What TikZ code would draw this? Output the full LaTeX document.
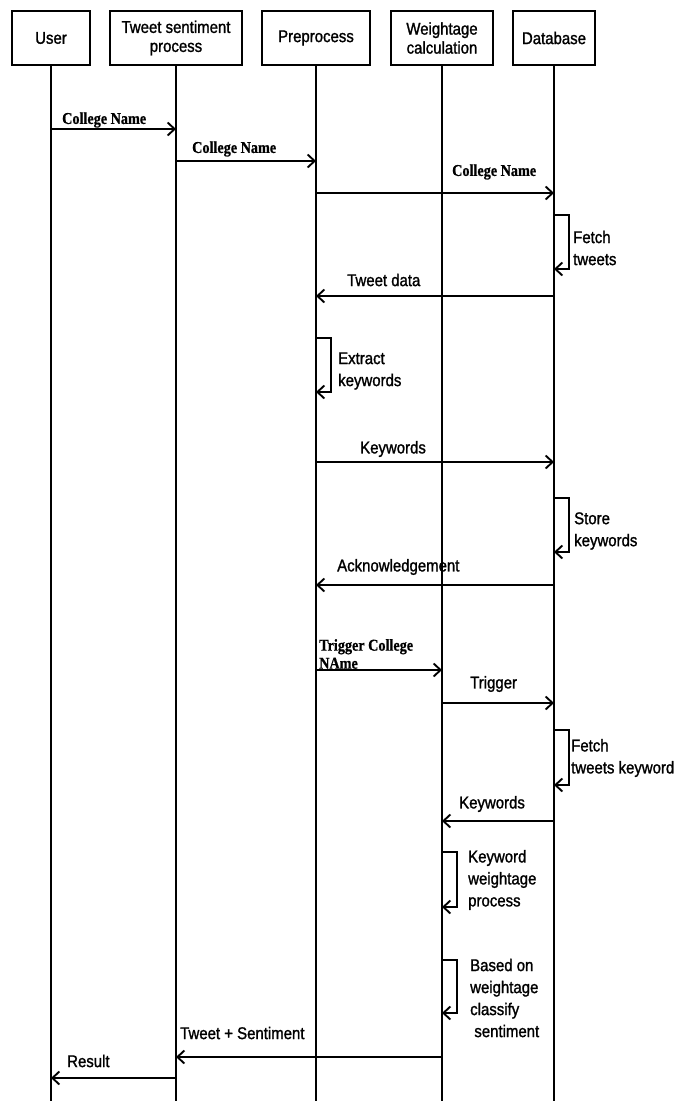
\documentclass[tikz,border=0pt]{standalone}
\usepackage{fontspec}
\setmainfont{Liberation Sans}[FakeStretch=0.88,FakeBold=1.3]
\newfontfamily\msgserif{Liberation Serif}[FakeStretch=0.86,FakeBold=0.8]
\usetikzlibrary{arrows.meta,positioning}

\tikzset{
  objbox/.style={draw,line width=1.4pt,minimum height=54pt,inner sep=2pt,
    align=center,font=\fontsize{17}{19}\selectfont},
  lifeline/.style={line width=1.2pt},
  msg/.style={line width=1.8pt,-{Straight Barb[length=7pt,width=13pt,line width=1.9pt]}},
  lbl/.style={anchor=west,inner sep=0pt,align=left,font=\fontsize{17}{22}\selectfont},
  slbl/.style={anchor=west,inner sep=0pt,align=left,font=\msgserif\bfseries\fontsize{16.5}{18}\selectfont}
}

\begin{document}
\begin{tikzpicture}[x=1pt,y=-1pt]
\useasboundingbox (0,0) rectangle (695,1101);

% Objects
\node[objbox,minimum width=78pt] (user) at (51,38) {User};
\node[objbox,minimum width=132pt] (tsp) at (176,38) {Tweet sentiment\\process};
\node[objbox,minimum width=108pt] (pre) at (316,38) {Preprocess};
\node[objbox,minimum width=102pt] (wgt) at (442,38) {Weightage\\calculation};
\node[objbox,minimum width=82pt] (db) at (554,38) {Database};

% Lifelines
\foreach \obj in {user,tsp,pre,wgt,db}
\draw[lifeline] (\obj.south) -- (\obj |- 0,1101);

% Messages
\draw[msg] (user |- 0,129) -- (tsp |- 0,129);
\node[slbl] (m1) at (62,120) {College Name};
\draw[msg] (tsp |- 0,161) -- (pre |- 0,161);
\node[slbl] (m2) at (192,149) {College Name};
\draw[msg] (pre |- 0,193) -- (db |- 0,193);
\node[slbl] (m3) at (452,172) {College Name};

\draw[msg] (db |- 0,215) -- ++(15,0) |- (db |- 0,269);
\node[lbl] (l1) at (573,248) {Fetch\\tweets};
\draw[msg] (db |- 0,296) -- (pre |- 0,296);
\node[lbl] (m4) at (347,280) {Tweet data};

\draw[msg] (pre |- 0,338) -- ++(15,0) |- (pre |- 0,392);
\node[lbl] (l2) at (338,371) {Extract\\keywords};
\draw[msg] (pre |- 0,462) -- (db |- 0,462);
\node[lbl] (m5) at (360,449) {Keywords};

\draw[msg] (db |- 0,498) -- ++(15,0) |- (db |- 0,552);
\node[lbl] (l3) at (574,531) {Store\\keywords};
\draw[msg] (db |- 0,585) -- (pre |- 0,585);
\node[lbl] (m6) at (337,567) {Acknowledgement};

\draw[msg] (pre |- 0,670) -- (wgt |- 0,670);
\node[slbl] (m7) at (319,654) {Trigger College\\NAme};
\draw[msg] (wgt |- 0,703) -- (db |- 0,703);
\node[lbl] (m8) at (470,684) {Trigger};

\draw[msg] (db |- 0,730) -- ++(15,0) |- (db |- 0,785);
\node[lbl] (l4) at (571,758) {Fetch\\tweets keyword};
\draw[msg] (db |- 0,821) -- (wgt |- 0,821);
\node[lbl] (m9) at (459,804) {Keywords};

\draw[msg] (wgt |- 0,852) -- ++(15,0) |- (wgt |- 0,907);
\node[lbl] (l5) at (468,880) {Keyword\\weightage\\process};
\draw[msg] (wgt |- 0,960) -- ++(15,0) |- (wgt |- 0,1013);
\node[lbl] (l6) at (470,998) {Based on\\weightage\\classify\\\ sentiment};

\draw[msg] (wgt |- 0,1057) -- (tsp |- 0,1057);
\node[lbl] (m10) at (180,1033) {Tweet + Sentiment};
\draw[msg] (tsp |- 0,1078) -- (user |- 0,1078);
\node[lbl] (m11) at (67,1061) {Result};
\end{tikzpicture}
\end{document}
